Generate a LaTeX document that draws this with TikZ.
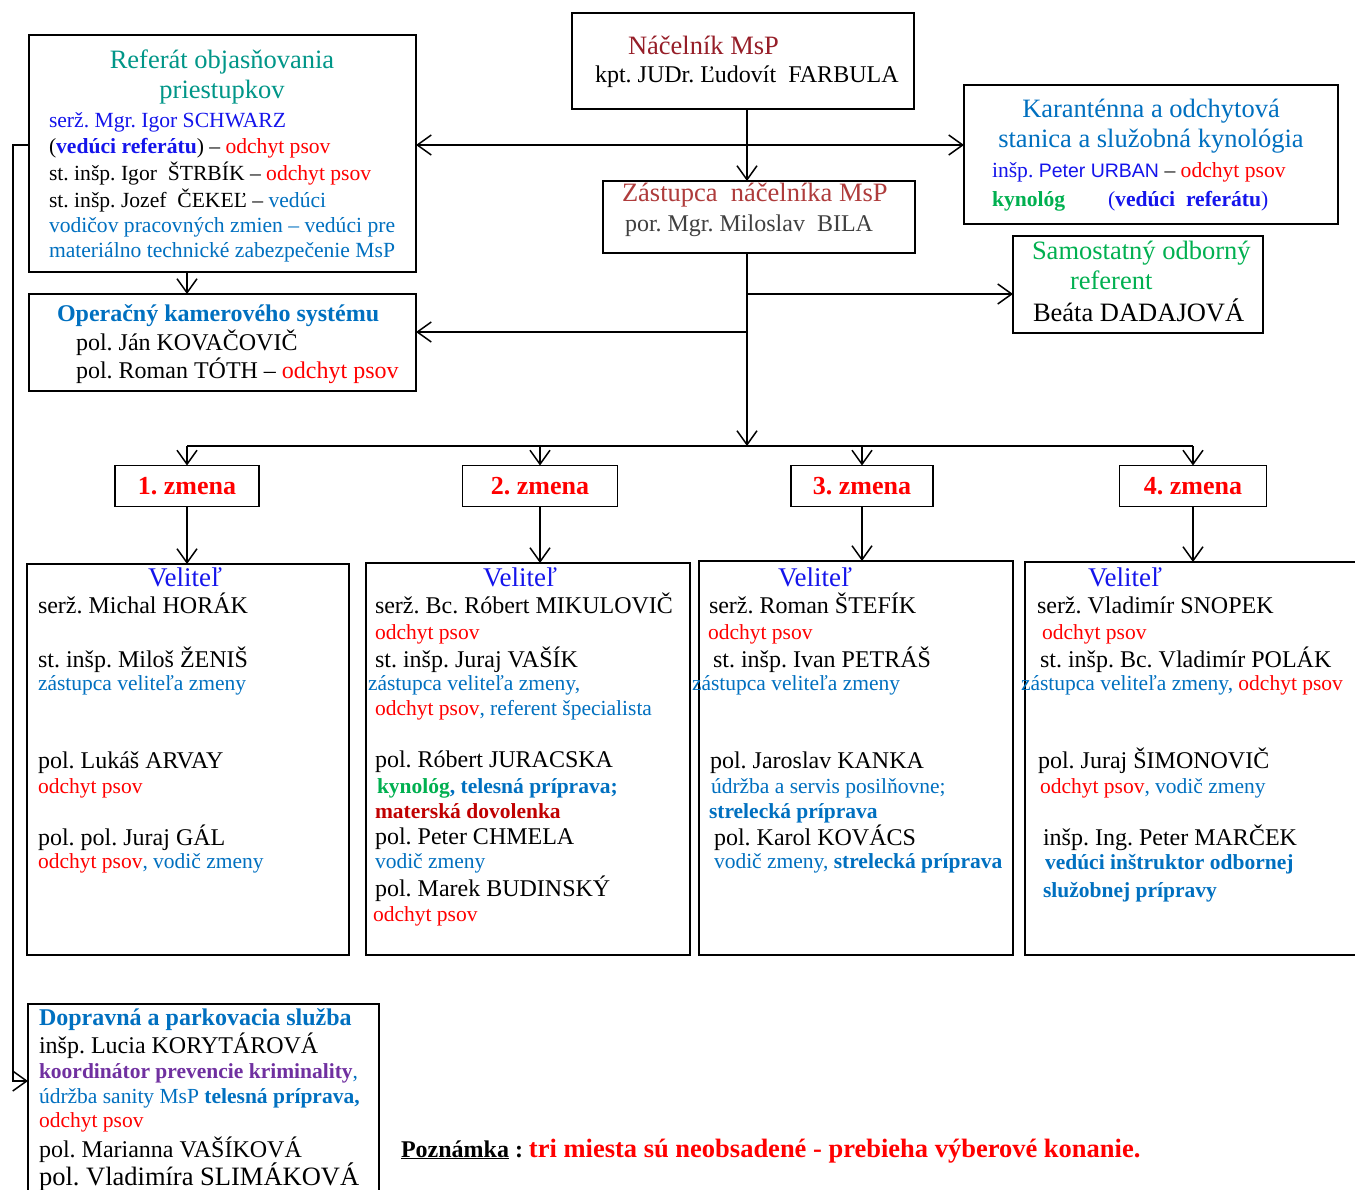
\documentclass[tikz,border=0pt]{standalone}
\usepackage{fontspec}
\setmainfont{Liberation Serif}
\newfontfamily\sansfam{Liberation Sans}
\usetikzlibrary{arrows.meta,calc}
\definecolor{cteal}{RGB}{0,150,136}
\definecolor{cblue}{RGB}{20,20,235}
\definecolor{clb}{RGB}{0,112,192}
\definecolor{cred}{RGB}{255,0,0}
\definecolor{cgreen}{RGB}{0,176,80}
\definecolor{cpurple}{RGB}{112,48,160}
\definecolor{cdred}{RGB}{192,0,0}
\definecolor{cnac}{RGB}{150,30,40}
\definecolor{czas}{RGB}{175,60,60}
\definecolor{cgray}{RGB}{64,64,64}
\newcommand{\fzN}{\fontsize{24}{28}\selectfont}
\newcommand{\fzS}{\fontsize{21.5}{25}\selectfont}
\newcommand{\fzR}{\fontsize{21.6}{26}\selectfont}
\newcommand{\fzT}{\fontsize{26.5}{30}\selectfont}
\newcommand{\fzV}{\fontsize{27}{31}\selectfont}
\newcommand{\ods}{\textcolor{cred}{odchyt psov}}
\frenchspacing
\begin{document}
\begin{tikzpicture}[x=1pt,y=-1pt,
  box/.style={draw, line width=1.8pt, anchor=north west, inner sep=0pt, outer sep=0pt},
  zbox/.style={draw, line width=1.8pt, inner sep=0pt, outer sep=0pt, minimum height=41pt,
     text=cred, font=\fontsize{26}{30}\selectfont\bfseries},
  L/.style={anchor=base west, inner sep=0pt, outer sep=0pt},
  vel/.style={anchor=base, inner sep=0pt, outer sep=0pt, font=\fzV, text=cblue},
  arr/.style={line width=1.5pt, -{Straight Barb[length=14pt,width=20pt]}},
  arrtwo/.style={line width=1.5pt, {Straight Barb[length=14pt,width=20pt]}-{Straight Barb[length=14pt,width=20pt]}},
  conn/.style={line width=1.5pt}
]
\fill[white] (0,0) rectangle (1355,1190);
\useasboundingbox (0,0) rectangle (1355,1190);

% ---------- boxes ----------
\node[box, minimum width=387pt, minimum height=237pt] (ref) at (29,35) {};
\node[box, minimum width=387pt, minimum height=97pt] (op) at (29,294) {};
\node[box, minimum width=342pt, minimum height=96pt] (nac) at (572,13) {};
\node[box, minimum width=312pt, minimum height=72pt] (zas) at (603,181) {};
\node[box, minimum width=374pt, minimum height=139pt] (kar) at (964,85) {};
\node[box, minimum width=250pt, minimum height=97pt] (sam) at (1013,236) {};
\node[box, minimum width=322pt, minimum height=391pt] (s1) at (27,564) {};
\node[box, minimum width=324pt, minimum height=392pt] (s2) at (366,563) {};
\node[box, minimum width=314pt, minimum height=394pt] (s3) at (699,561) {};
\node[box, minimum width=345pt, minimum height=393pt] (s4) at (1025,562) {};
\node[box, minimum width=351pt, minimum height=210pt] (dop) at (28,1004) {};

\node[zbox, minimum width=144pt] (zm1) at (187,486) {1. zmena};
\node[zbox, minimum width=155pt] (zm2) at (540,486) {2. zmena};
\node[zbox, minimum width=142pt] (zm3) at (862,486) {3. zmena};
\node[zbox, minimum width=147pt] (zm4) at (1193,486) {4. zmena};

% ---------- connectors ----------
\coordinate (spine) at (747,0);
\coordinate (hl) at (0,145);
\coordinate (bus) at (0,446);
\coordinate (ysam) at (0,294);
\coordinate (yop) at (0,332);
\coordinate (lft) at (13,0);
\coordinate (ydop) at (0,1081);
\coordinate (cx) at (187,0);

\draw[arrtwo] (ref.east |- hl) -- (kar.west |- hl);
\draw[arr] (nac.south -| spine) -- (zas.north -| spine);
\draw[arr] (zas.south -| spine) -- (bus -| spine);
\draw[arr] (ysam -| spine) -- (sam.west |- ysam);
\draw[arr] (yop -| spine) -- (op.east |- yop);
\draw[arr] (ref.south -| cx) -- (op.north -| cx);
\draw[conn] (bus -| zm1) -- (bus -| zm4);
\foreach \i in {1,2,3,4} {
  \draw[arr] (bus -| zm\i.north) -- (zm\i.north);
  \draw[arr] (zm\i.south) -- (zm\i.south |- s\i.north);
}
\draw[arr] (ref.west |- hl) -| (lft |- ydop) -- (dop.west |- ydop);

% ---------- Referat ----------
\node[L,anchor=base,font=\fzT,text=cteal] (r1) at (222,69) {Referát objasňovania};
\node[L,anchor=base,font=\fzT,text=cteal] (r2) at (222,99) {priestupkov};
\node[L,font=\fzR,text=cblue] (r3) at (49,128) {serž. Mgr. Igor SCHWARZ};
\node[L,font=\fzR] (r4) at (49,154) {(\textcolor{cblue}{\bfseries vedúci referátu}) – \ods};
\node[L,font=\fzR] (r5) at (49,181) {st. inšp. Igor\ \ ŠTRBÍK – \ods};
\node[L,font=\fzR] (r6) at (49,208) {st. inšp. Jozef\ \ ČEKEĽ – \textcolor{clb}{vedúci}};
\node[L,font=\fzR,text=clb] (r7) at (49,233) {vodičov pracovných zmien – vedúci pre};
\node[L,font=\fzR,text=clb] (r8) at (49,258) {materiálno technické zabezpečenie MsP};

% ---------- Operacny ----------
\node[L,font=\fzN\bfseries,text=clb] (o1) at (57,322) {Operačný kamerového systému};
\node[L,font=\fzN] (o2) at (76,350) {pol. Ján KOVAČOVIČ};
\node[L,font=\fzN] (o3) at (76,378) {pol. Roman TÓTH – \ods};

% ---------- Nacelnik / Zastupca ----------
\node[L,font=\fzT,text=cnac] (n1) at (628,55) {Náčelník MsP};
\node[L,font=\fzN] (n2) at (595,83) {kpt. JUDr. Ľudovít\ \ FARBULA};
\node[L,font=\fzT,text=czas] (za1) at (622,202) {Zástupca\ \ náčelníka MsP};
\node[L,font=\fzN,text=cgray] (za2) at (625,232) {por. Mgr. Miloslav\ \ BILA};

% ---------- Karantenna ----------
\node[L,anchor=base,font=\fzT,text=clb] (k1) at (1151,118) {Karanténna a odchytová};
\node[L,anchor=base,font=\fzT,text=clb] (k2) at (1151,148) {stanica a služobná kynológia};
\node[L,font=\fzR] (k3) at (992,178) {\textcolor{cblue}{inšp. {\sansfam\fontsize{19.5}{22}\selectfont Peter URBAN}} – \ods};
\node[L,font=\fzR\bfseries,text=cgreen] (k4) at (992,207) {kynológ};
\node[L,font=\fzR,text=cblue] (k5) at (1108,207) {(\textbf{vedúci\ \ referátu})};

% ---------- Samostatny ----------
\node[L,font=\fzT,text=cgreen] (sa1) at (1032,260) {Samostatný odborný};
\node[L,font=\fzT,text=cgreen] (sa2) at (1070,290) {referent};
\node[L,font=\fzT] (sa3) at (1033,322) {Beáta DADAJOVÁ};

% ---------- 1. zmena ----------
\node[vel] (v1) at (185,586) {Veliteľ};
\node[L,font=\fzN] (a1) at (38,613) {serž. Michal HORÁK};
\node[L,font=\fzN] (a2) at (38,667) {st. inšp. Miloš ŽENIŠ};
\node[L,font=\fzS,text=clb] (a3) at (38,690) {zástupca veliteľa zmeny};
\node[L,font=\fzN] (a4) at (38,768) {pol. Lukáš ARVAY};
\node[L,font=\fzS,text=cred] (a5) at (38,793) {odchyt psov};
\node[L,font=\fzN] (a6) at (38,845) {pol. pol. Juraj GÁL};
\node[L,font=\fzS] (a7) at (38,868) {\ods\textcolor{clb}{, vodič zmeny}};

% ---------- 2. zmena ----------
\node[vel] (v2) at (520,586) {Veliteľ};
\node[L,font=\fzN] (b1) at (375,613) {serž. Bc. Róbert MIKULOVIČ};
\node[L,font=\fzS,text=cred] (b2) at (375,639) {odchyt psov};
\node[L,font=\fzN] (b3) at (375,667) {st. inšp. Juraj VAŠÍK};
\node[L,font=\fzS,text=clb] (b4) at (368,690) {zástupca veliteľa zmeny,};
\node[L,font=\fzS] (b5) at (375,715) {\ods\textcolor{clb}{, referent špecialista}};
\node[L,font=\fzN] (b6) at (375,767) {pol. Róbert JURACSKA};
\node[L,font=\fzS\bfseries] (b7) at (377,793) {\textcolor{cgreen}{kynológ}\textcolor{clb}{, telesná príprava;}};
\node[L,font=\fzS\bfseries,text=cdred] (b8) at (375,818) {materská dovolenka};
\node[L,font=\fzN] (b9) at (375,844) {pol. Peter CHMELA};
\node[L,font=\fzS,text=clb] (b10) at (375,868) {vodič zmeny};
\node[L,font=\fzN] (b11) at (375,896) {pol. Marek BUDINSKÝ};
\node[L,font=\fzS,text=cred] (b12) at (373,921) {odchyt psov};

% ---------- 3. zmena ----------
\node[vel] (v3) at (815,586) {Veliteľ};
\node[L,font=\fzN] (c1) at (709,613) {serž. Roman ŠTEFÍK};
\node[L,font=\fzS,text=cred] (c2) at (708,639) {odchyt psov};
\node[L,font=\fzN] (c3) at (713,667) {st. inšp. Ivan PETRÁŠ};
\node[L,font=\fzS,text=clb] (c4) at (692,690) {zástupca veliteľa zmeny};
\node[L,font=\fzN] (c5) at (710,768) {pol. Jaroslav KANKA};
\node[L,font=\fzS,text=clb] (c6) at (711,793) {údržba a servis posilňovne;};
\node[L,font=\fzS\bfseries,text=clb] (c7) at (709,818) {strelecká príprava};
\node[L,font=\fzN] (c8) at (714,845) {pol. Karol KOVÁCS};
\node[L,font=\fzS,text=clb] (c9) at (714,868) {vodič zmeny, \textbf{strelecká príprava}};

% ---------- 4. zmena ----------
\node[vel] (v4) at (1125,586) {Veliteľ};
\node[L,font=\fzN] (e1) at (1037,613) {serž. Vladimír SNOPEK};
\node[L,font=\fzS,text=cred] (e2) at (1042,639) {odchyt psov};
\node[L,font=\fzN] (e3) at (1040,667) {st. inšp. Bc. Vladimír POLÁK};
\node[L,font=\fzS] (e4) at (1021,690) {\textcolor{clb}{zástupca veliteľa zmeny,} \ods};
\node[L,font=\fzN] (e5) at (1038,768) {pol. Juraj ŠIMONOVIČ};
\node[L,font=\fzS] (e6) at (1040,793) {\ods\textcolor{clb}{, vodič zmeny}};
\node[L,font=\fzN] (e7) at (1043,845) {inšp. Ing. Peter MARČEK};
\node[L,font=\fzS\bfseries,text=clb] (e8) at (1045,869) {vedúci inštruktor odbornej};
\node[L,font=\fzS\bfseries,text=clb] (e9) at (1043,897) {služobnej prípravy};

% ---------- Dopravna ----------
\node[L,font=\fzN\bfseries,text=clb] (d1) at (39,1025) {Dopravná a parkovacia služba};
\node[L,font=\fzN] (d2) at (39,1053) {inšp. Lucia KORYTÁROVÁ};
\node[L,font=\fzS] (d3) at (39,1078) {\textcolor{cpurple}{\bfseries koordinátor prevencie kriminality}\textcolor{clb}{,}};
\node[L,font=\fzS,text=clb] (d4) at (39,1103) {údržba sanity MsP \textbf{telesná príprava,}};
\node[L,font=\fzS,text=cred] (d5) at (39,1127) {odchyt psov};
\node[L,font=\fzN] (d6) at (39,1157) {pol. Marianna VAŠÍKOVÁ};
\node[L,font=\fzT] (d7) at (39,1185) {pol. Vladimíra SLIMÁKOVÁ};

% ---------- note ----------
\node[L,font=\fzN\bfseries] (note) at (401,1157) {\underline{Poznámka} : {\fzT\textcolor{cred}{tri miesta sú neobsadené - prebieha výberové konanie.}}};
\end{tikzpicture}
\end{document}
